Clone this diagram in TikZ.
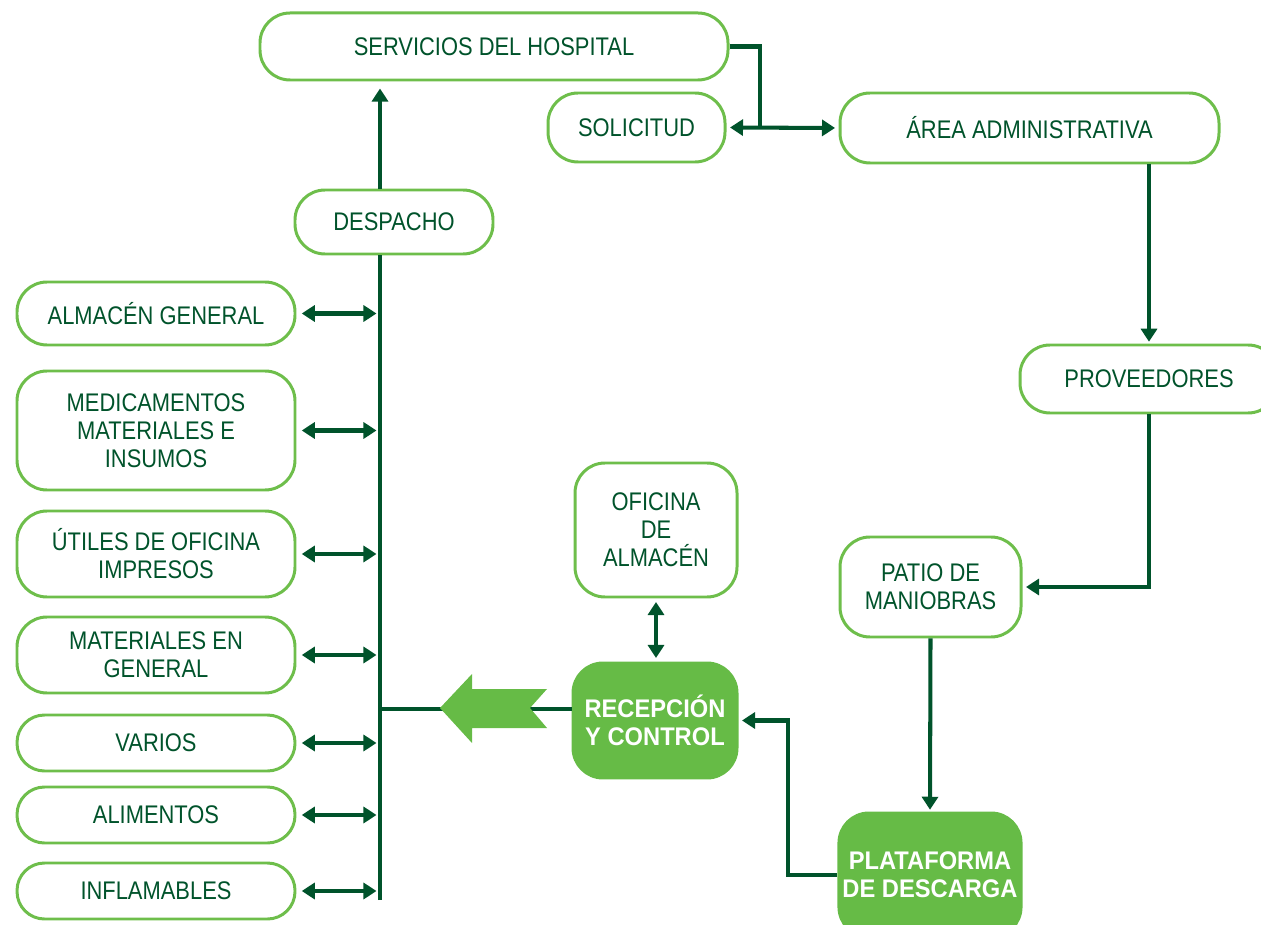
\documentclass[tikz,border=0pt]{standalone}
\usepackage{fontspec}
\setmainfont{Liberation Sans}[FakeStretch=0.86, BoldFeatures={FakeStretch=0.93}]
\usepackage{xcolor}
\usepackage{tikz}
\usetikzlibrary{positioning,calc,arrows.meta}

\definecolor{linegreen}{RGB}{0,83,43}
\definecolor{edgegreen}{RGB}{110,190,75}
\definecolor{fillgreen}{RGB}{102,187,70}

\tikzset{
  sz/.style 2 args={minimum width=#1*0.02cm, minimum height=#2*0.02cm},
  box/.style={draw=edgegreen, line width=1.7pt, fill=white, rounded corners=0.6cm,
    align=center, text=linegreen, inner sep=2pt, font=\fontsize{14.5}{16}\selectfont},
  smallbox/.style={box, rounded corners=0.55cm},
  solidbox/.style={box, fill=fillgreen, draw=fillgreen, text=white,
    font=\fontsize{14.5}{16}\selectfont\bfseries},
  conn/.style={draw=linegreen, line width=2.3pt},
  arrow/.style={conn, -{Triangle[length=0.26cm,width=0.32cm]}},
  dblarrow/.style={conn, {Triangle[length=0.26cm,width=0.32cm]}-{Triangle[length=0.26cm,width=0.32cm]}},
}

\begin{document}
\begin{tikzpicture}[x=0.02cm, y=-0.02cm]
    \useasboundingbox (0,0) rectangle (1261,925);
    \clip (0,0) rectangle (1261,925);

    % Top row
    \node [box, sz={468}{67}] (serv) at (494,46.5) {SERVICIOS DEL HOSPITAL};
    \node [box, sz={177}{69}] (solic) at (636.5,127.5) {SOLICITUD};
    \node [box, sz={379}{70}] (area) at (1029.5,128) {ÁREA ADMINISTRATIVA};
    \node [box, sz={258}{68}] (prov) at (1149,379) {PROVEEDORES};

    % Distribution column
    \node [box, sz={198}{64}] (desp) at (394,222) {DESPACHO};
    \node [box, sz={278}{63}] (almgen) at (156,313.5) {ALMACÉN GENERAL};
    \node [box, sz={278}{119}] (medic) at (156,430.5) {MEDICAMENTOS\\MATERIALES E\\INSUMOS};
    \node [box, sz={278}{86}] (utiles) at (156,554) {ÚTILES DE OFICINA\\IMPRESOS};
    \node [box, sz={278}{76}] (matgen) at (156,655) {MATERIALES EN\\GENERAL};
    \node [smallbox, sz={278}{56}] (varios) at (156,743) {VARIOS};
    \node [smallbox, sz={278}{56}] (alim) at (156,815) {ALIMENTOS};
    \node [smallbox, sz={278}{56}] (infl) at (156,891) {INFLAMABLES};

    % Reception side
    \node [box, sz={162}{134}] (ofic) at (656,530) {OFICINA\\DE\\ALMACÉN};
    \node [box, sz={181}{100}] (patio) at (930.5,587) {PATIO DE\\MANIOBRAS};
    \node [solidbox, sz={164}{115}] (recep) at (655,720.5) {RECEPCIÓN\\Y CONTROL};
    \node [solidbox, sz={182}{124}] (plat) at (930,875) {PLATAFORMA\\DE DESCARGA};

    % Trunk
    \coordinate (trunkbot) at (380,900);
    \coordinate (tee) at (380,709);
    \coordinate (split) at (760,128);
    \draw [conn] (trunkbot) -- (trunkbot |- desp.south);
    \draw [arrow, shorten >=4pt] (trunkbot |- desp.north) -- (trunkbot |- serv.south);
    \foreach \b in {almgen,medic,utiles,matgen,varios,alim,infl}
        \draw [dblarrow, shorten <=3pt, shorten >=2pt] (\b.east) -- (\b.east -| trunkbot);

    % Branch to reception with the big arrow
    \draw [conn] (tee) -- (tee -| recep.west);
    \fill [fillgreen] (440,708) -- (472,674) -- (472,689) -- (547,689) -- (530,708)
        -- (547,728) -- (472,728) -- (472,743) -- cycle;
    \draw [dblarrow, shorten <=2pt, shorten >=2pt] (ofic.south) -- (ofic.south |- recep.north);

    % Request loop
    \draw [conn] (serv.east) -| (split);
    \draw [dblarrow, shorten <=2pt, shorten >=2pt] (solic.east) -- (area.west);

    % Supply path
    \draw [arrow, shorten >=1pt] (area.south -| prov.south) -- (prov.north);
    \draw [arrow, shorten >=2pt] (prov.south) |- (patio.east);
    \draw [arrow, shorten >=1pt] (patio.south) -- (plat.north);
    \draw [arrow, shorten >=2pt] (plat.west) -- ++(-49,0) |- (recep.east);
\end{tikzpicture}
\end{document}
